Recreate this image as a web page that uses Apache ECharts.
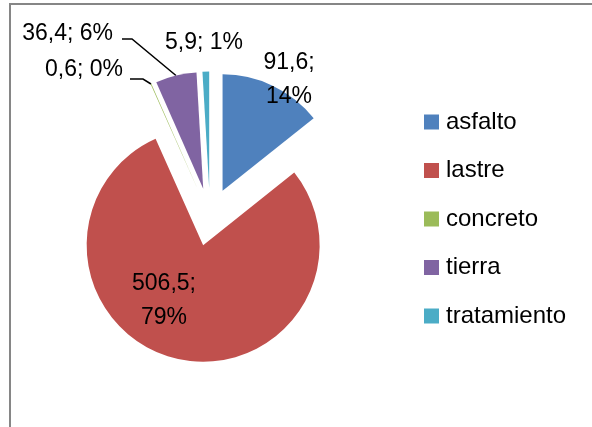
<!DOCTYPE html>
<html>
<head>
<meta charset="utf-8">
<script src="https://cdn.jsdelivr.net/npm/echarts@6/dist/echarts.min.js"></script>
<style>
html, body { margin: 0; padding: 0; background: #fff; }
#chart { width: 592px; height: 427px; }
</style>
</head>
<body>
<div id="chart"></div>
<script>
const categories = ['asfalto', 'lastre', 'concreto', 'tierra', 'tratamiento'];
const values = [91.6, 506.5, 0.6, 36.4, 5.9];
const colors = ['#4F81BD', '#C0504D', '#9BBB59', '#8064A2', '#4BACC6'];

// label placement like the excel "best fit": [x, y, align, two lines?]
const labelSpots = [
  [289, 80, 'center', true],
  [164, 301, 'center', true],
  [123, 70, 'right', false],
  [113, 34, 'right', false],
  [204, 43, 'center', false]
];
// leader line bends, from the slice edge to the label
const leaderBends = [null, null, [[143, 79], [130, 79]], [[132, 39], [122, 39]], null];

const pieCenter = [210, 217];
const pieRadius = 116.5;
const explode = 29;
const fontName = 'Liberation Sans';

const total = values.reduce((a, b) => a + b, 0);

function edgePoint (i) {
  let before = 0;
  for (let k = 0; k < i; k++) before += values[k];
  const mid = (before + values[i] / 2) / total;
  const a = mid * Math.PI * 2;
  const d = pieRadius + explode;
  return [pieCenter[0] + d * Math.sin(a), pieCenter[1] - d * Math.cos(a)];
}

function fmt (v) {
  return v.toFixed(1).replace('.', ',');
}

const chart = echarts.init(document.getElementById('chart'));
chart.setOption({
  animation: false,
  color: colors,
  graphic: [{
    type: 'rect',
    silent: true,
    shape: { x: 10, y: 4, width: 700, height: 500 },
    style: { fill: 'none', stroke: '#868686', lineWidth: 2 }
  }],
  legend: {
    orient: 'vertical',
    left: 419,
    top: 105,
    icon: 'rect',
    itemWidth: 15,
    itemHeight: 15,
    itemGap: 24.5,
    selectedMode: false,
    data: categories,
    textStyle: { fontFamily: fontName, fontSize: 24, color: '#000', lineHeight: 24, padding: [0, 0, 0, 2] }
  },
  series: [{
    // the slices, all pulled out
    type: 'pie',
    center: pieCenter,
    radius: pieRadius,
    startAngle: 90,
    clockwise: true,
    selectedMode: 'multiple',
    selectedOffset: explode,
    emphasis: { disabled: true },
    itemStyle: { borderWidth: 0 },
    label: { show: false },
    labelLine: { show: false },
    data: categories.map(function (name, i) {
      return { name: name, value: values[i], selected: true };
    })
  }, {
    // same data again, only for the labels
    type: 'pie',
    silent: true,
    legendHoverLink: false,
    center: pieCenter,
    radius: pieRadius,
    startAngle: 90,
    clockwise: true,
    avoidLabelOverlap: false,
    emphasis: { disabled: true },
    itemStyle: { color: 'rgba(0,0,0,0)', borderWidth: 0 },
    label: {
      position: 'outside',
      color: '#000',
      fontFamily: fontName,
      fontSize: 23,
      lineHeight: 34,
      formatter: function (p) {
        const pct = Math.round(p.percent) + '%';
        return fmt(p.value) + ';' + (labelSpots[p.dataIndex][3] ? '\n' : ' ') + pct;
      }
    },
    labelLine: { show: true, lineStyle: { color: '#000', width: 1.5 } },
    labelLayout: function (params) {
      const i = params.dataIndex;
      const s = labelSpots[i];
      const out = { x: s[0], y: s[1], align: s[2], verticalAlign: 'middle' };
      if (leaderBends[i]) {
        out.labelLinePoints = [edgePoint(i)].concat(leaderBends[i]);
      }
      return out;
    },
    data: categories.map(function (name, i) {
      const item = { name: name, value: values[i] };
      if (!leaderBends[i]) item.labelLine = { show: false };
      return item;
    })
  }]
});
</script>
</body>
</html>
